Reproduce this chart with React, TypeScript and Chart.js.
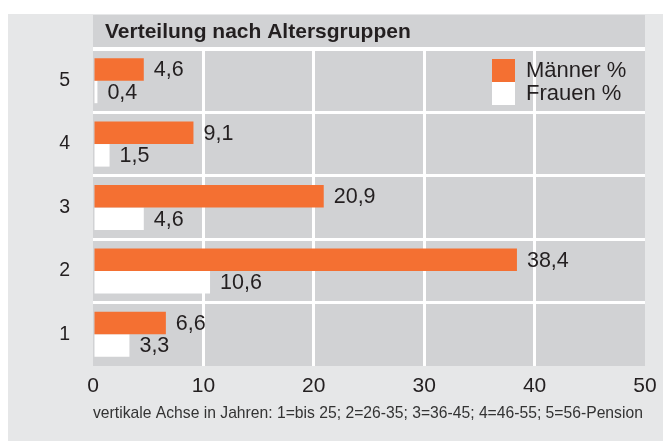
import React, { useEffect, useRef } from 'react';
import { Chart, registerables } from 'chart.js';

Chart.register(...registerables);

// ---- data ----
const categories = ['5', '4', '3', '2', '1'];
const maennerValues = [4.6, 9.1, 20.9, 38.4, 6.6];
const frauenValues = [0.4, 1.5, 4.6, 10.6, 3.3];
const seriesLabels = ['Männer %', 'Frauen %'];
const xMin = 0;
const xMax = 50;
const xStep = 10;
const chartTitle = 'Verteilung nach Altersgruppen';
const footnote = 'vertikale Achse in Jahren: 1=bis 25; 2=26-35; 3=36-45; 4=46-55; 5=56-Pension';

// ---- styles ----
const FONT = '"Liberation Sans", Arial, Helvetica, sans-serif';
const TEXT = '#231f20';
const ORANGE = '#f47032';
const WHITE = '#ffffff';
const OUTER_BG = '#e6e7e8';
const PLOT_BG = '#d1d2d4';

const fmt = (v: number) => v.toFixed(1).replace('.', ',');

const backgroundPlugin = {
  id: 'bgPanels',
  beforeDraw(chart: any) {
    const { ctx, chartArea, width, height } = chart;
    ctx.save();
    ctx.fillStyle = OUTER_BG;
    ctx.fillRect(0, 0, width, height);
    // title band
    ctx.fillStyle = PLOT_BG;
    ctx.fillRect(chartArea.left, 1, chartArea.right - chartArea.left, chartArea.top - 2);
    // white separator
    ctx.fillStyle = WHITE;
    ctx.fillRect(chartArea.left, chartArea.top - 2, chartArea.right - chartArea.left, 3);
    // plot background
    ctx.fillStyle = PLOT_BG;
    ctx.fillRect(chartArea.left, chartArea.top + 1, chartArea.right - chartArea.left, chartArea.bottom - chartArea.top - 1);
    // title text
    ctx.fillStyle = TEXT;
    ctx.font = `bold 21px ${FONT}`;
    ctx.textAlign = 'left';
    ctx.textBaseline = 'middle';
    ctx.fillText(chartTitle, chartArea.left + 12, (1 + chartArea.top - 2) / 2 + 1);
    ctx.restore();
  },
};

const valueLabelPlugin = {
  id: 'valueLabels',
  afterDatasetsDraw(chart: any) {
    const { ctx } = chart;
    ctx.save();
    ctx.fillStyle = TEXT;
    ctx.font = `21.5px ${FONT}`;
    ctx.textAlign = 'left';
    ctx.textBaseline = 'middle';
    chart.data.datasets.forEach((ds: any, di: number) => {
      const meta = chart.getDatasetMeta(di);
      meta.data.forEach((el: any, i: number) => {
        ctx.fillText(fmt(ds.data[i]), el.x + 10, el.y + 1);
      });
    });
    ctx.restore();
  },
};

const legendPlugin = {
  id: 'insideLegend',
  afterDraw(chart: any) {
    const { ctx, chartArea } = chart;
    const size = 23;
    const x0 = chartArea.right - 153;
    const y0 = chartArea.top + 10;
    ctx.save();
    ctx.font = `22px ${FONT}`;
    ctx.textAlign = 'left';
    ctx.textBaseline = 'middle';
    chart.data.datasets.forEach((ds: any, i: number) => {
      const y = y0 + i * size;
      ctx.fillStyle = ds.backgroundColor;
      ctx.fillRect(x0, y, size, size);
      ctx.fillStyle = TEXT;
      ctx.fillText(ds.label, x0 + 34, y + size / 2);
    });
    ctx.restore();
  },
};

export default function App() {
  const canvasRef = useRef<HTMLCanvasElement | null>(null);

  useEffect(() => {
    if (!canvasRef.current) return;
    const chart = new Chart(canvasRef.current, {
      type: 'bar',
      data: {
        labels: categories,
        datasets: [
          {
            label: seriesLabels[0],
            data: maennerValues,
            backgroundColor: ORANGE,
            borderWidth: 0,
            categoryPercentage: 0.71,
            barPercentage: 1.0,
          },
          {
            label: seriesLabels[1],
            data: frauenValues,
            backgroundColor: WHITE,
            borderWidth: 0,
            categoryPercentage: 0.71,
            barPercentage: 1.0,
          },
        ],
      },
      options: {
        indexAxis: 'y',
        animation: false,
        responsive: false,
        maintainAspectRatio: false,
        layout: { padding: { top: 35, right: 25, left: 0, bottom: 0 } },
        plugins: {
          legend: { display: false },
          title: { display: false },
          tooltip: { enabled: false },
        },
        scales: {
          x: {
            type: 'linear',
            min: xMin,
            max: xMax,
            ticks: {
              stepSize: xStep,
              color: TEXT,
              font: { family: FONT, size: 21 },
              padding: 8,
              callback: (v: any) => String(v),
            },
            grid: {
              color: (c: any) =>
                c.tick && (c.tick.value === xMin || c.tick.value === xMax) ? 'rgba(0,0,0,0)' : WHITE,
              lineWidth: 3,
              drawTicks: false,
            },
            border: { display: false },
            title: {
              display: true,
              text: footnote,
              align: 'start',
              color: '#333333',
              font: { family: FONT, size: 15.7 },
              padding: { top: 0, bottom: 17.5 },
            },
            afterFit: (scale: any) => {
              scale.height = 75;
            },
          },
          y: {
            type: 'category',
            ticks: {
              color: TEXT,
              font: { family: FONT, size: 19.5 },
              padding: 23,
            },
            grid: {
              color: (c: any) => (c.type === 'tick' ? WHITE : 'rgba(0,0,0,0)'),
              lineWidth: 3,
              drawTicks: false,
              offset: true,
            },
            border: { display: false },
            afterFit: (scale: any) => {
              scale.width = 85;
            },
          },
        },
      } as any,
      plugins: [backgroundPlugin, valueLabelPlugin, legendPlugin],
    });
    return () => chart.destroy();
  }, []);

  return (
    <div style={{ paddingTop: 6 }}>
      <canvas
        ref={canvasRef}
        width={662}
        height={427}
        style={{ display: 'block', width: 662, height: 427, background: OUTER_BG }}
      />
    </div>
  );
}
